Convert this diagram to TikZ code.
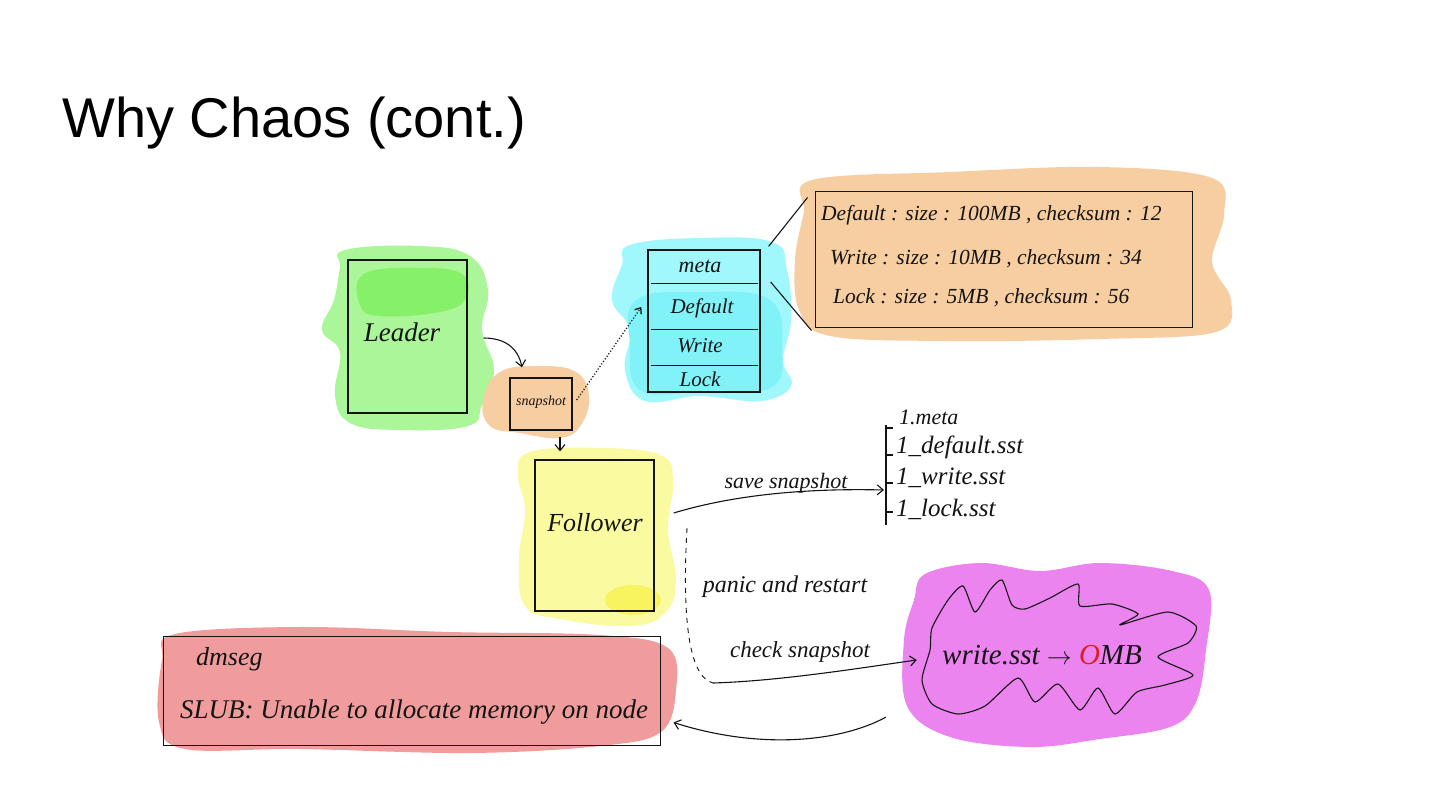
\documentclass[tikz,border=0pt]{standalone}
\usepackage{fontspec}
\setmainfont{Liberation Sans}
\newfontfamily\hand{Liberation Serif}
\usetikzlibrary{arrows.meta}
\definecolor{lgreen}{RGB}{170,246,152}
\definecolor{dgreen}{RGB}{135,240,105}
\definecolor{lcyan}{RGB}{160,248,252}
\definecolor{dcyan}{RGB}{128,242,248}
\definecolor{peach}{RGB}{246,206,162}
\definecolor{lyellow}{RGB}{250,250,160}
\definecolor{dyellow}{RGB}{248,244,96}
\definecolor{salmon}{RGB}{240,156,156}
\definecolor{orchid}{RGB}{236,132,240}
\definecolor{ink}{RGB}{20,20,20}
\definecolor{omb}{RGB}{220,30,30}
\tikzset{
  box/.style={draw=ink, line width=1.3pt, inner sep=0pt},
  hw/.style={font=\hand\itshape\fontsize{#1}{#1}\selectfont, text=ink, inner sep=0pt},
  pen/.style={draw=ink, line width=1.1pt},
  conn/.style={pen, -{Straight Barb[length=6pt,width=10pt]}},
  blob/.style={fill=#1, draw=none},
}
\begin{document}
\begin{tikzpicture}[x=1pt,y=-1pt]
\useasboundingbox (0,0) rectangle (1440,810);
\fill[white] (0,0) rectangle (1440,810);

% title
\node[anchor=base west, inner sep=0pt, font=\fontsize{56}{60}\selectfont] (title) at (62,138) {Why Chaos (cont.)};

% ---------- blobs ----------
\fill[blob=lgreen] plot[smooth cycle, tension=0.7] coordinates {(345,250) (420,246) (470,256) (488,290) (482,330) (494,370) (482,405) (468,426) (400,430) (350,423) (335,395) (340,352) (322,330) (334,300) (340,268)};
\fill[blob=dgreen] plot[smooth cycle, tension=0.7] coordinates {(364,274) (420,268) (462,274) (466,298) (440,312) (380,316) (360,305)};
\fill[blob=peach] plot[smooth cycle, tension=0.7] coordinates {(500,372) (540,366) (576,372) (589,396) (581,425) (560,438) (520,433) (490,426) (483,400)};
\fill[blob=lcyan] plot[smooth cycle, tension=0.7] coordinates {(630,245) (700,238) (772,242) (787,270) (791,320) (783,360) (791,386) (760,401) (700,396) (645,401) (625,370) (630,330) (612,300) (622,265)};
\fill[blob=dcyan] plot[smooth cycle, tension=0.7] coordinates {(636,300) (700,292) (770,300) (782,350) (770,388) (700,392) (640,390) (630,345)};
\fill[blob=peach] plot[smooth cycle, tension=0.6] coordinates {(812,180) (950,172) (1100,167) (1212,178) (1224,215) (1212,262) (1231,300) (1216,332) (1100,339) (950,341) (830,336) (799,310) (795,260) (804,212)};
\fill[blob=lyellow] plot[smooth cycle, tension=0.7] coordinates {(530,452) (600,448) (660,455) (673,480) (668,530) (676,580) (665,613) (630,626) (560,619) (525,606) (519,560) (525,510) (518,475)};
\fill[dyellow] (633,600) ellipse [x radius=28, y radius=15];
\fill[blob=salmon] plot[smooth cycle, tension=0.6] coordinates {(175,634) (300,627) (450,632) (600,635) (668,648) (676,690) (661,732) (600,746) (470,753) (300,749) (185,749) (159,722) (162,660)};
\fill[blob=orchid] plot[smooth cycle, tension=0.6] coordinates {(925,574) (980,563) (1040,571) (1100,563) (1172,571) (1209,590) (1206,650) (1196,702) (1170,727) (1100,739) (1030,747) (950,737) (907,706) (904,640) (914,600)};

% ---------- boxes ----------
\node[box, minimum width=119pt, minimum height=153pt] (leader) at (407.5,336.5) {};
\node[hw=27] (leaderT) at (402,332) {Leader};

\node[box, minimum width=62pt, minimum height=52pt] (snap) at (541,404) {};
\node[hw=14] (snapT) at (541,402) {snapshot};

\node[box, minimum width=112pt, minimum height=142pt] (meta) at (704,321) {};
\node[hw=22] (mMeta) at (700,266) {meta};
\node[hw=21] (mDef) at (702,308) {Default};
\node[hw=21] (mWrite) at (700,346) {Write};
\node[hw=21] (mLock) at (700,379) {Lock};
\draw[pen] ([xshift=4pt,yshift=-34pt]meta.north west) -- ([xshift=-3pt,yshift=-34pt]meta.north east);
\draw[pen] ([xshift=4pt,yshift=-80pt]meta.north west) -- ([xshift=-3pt,yshift=-80pt]meta.north east);
\draw[pen] ([xshift=4pt,yshift=-116pt]meta.north west) -- ([xshift=-3pt,yshift=-116pt]meta.north east);

\node[box, line width=1pt, minimum width=377pt, minimum height=135pt] (detail) at (1003.5,259.5) {};
\node[hw=21.5, anchor=west] (d1) at (821,215) {Default : size : 100MB , checksum : 12};
\node[hw=21.5, anchor=west] (d2) at (830,259) {Write : size : 10MB , checksum : 34};
\node[hw=21.5, anchor=west] (d3) at (833,298) {Lock : size : 5MB , checksum : 56};

\node[box, minimum width=119pt, minimum height=151pt] (follower) at (594.5,535.5) {};
\node[hw=26] (followerT) at (595,523) {Follower};

\node[box, line width=1pt, minimum width=497pt, minimum height=109pt] (dmseg) at (411.5,690.5) {};
\node[hw=26, anchor=west] (dm1) at (196,659) {dmseg};
\node[hw=27, anchor=west] (dm2) at (180,712) {SLUB: Unable to allocate memory on node};

% files list
\coordinate (brtop) at (886,425);
\coordinate (brbot) at (886,525);
\draw[pen] (brtop) -- (brbot);
\foreach \yy in {428,455,483,512} \draw[pen] (886,\yy) -- (893,\yy);
\node[hw=22, anchor=west] (f1) at (899,417) {1.meta};
\node[hw=25, anchor=west] (f2) at (896,447) {1\_default.sst};
\node[hw=25, anchor=west] (f3) at (896,478) {1\_write.sst};
\node[hw=25, anchor=west] (f4) at (896,509) {1\_lock.sst};

% cloud
\draw[pen] plot[smooth cycle, tension=0.4] coordinates {(932,628) (948,600) (963,586) (975,612) (990,590) (1002,580) (1012,605) (1025,609) (1050,598) (1078,584) (1080,606) (1112,604) (1138,614) (1120,625) (1168,612) (1196,626) (1188,643) (1158,657) (1193,675) (1165,685) (1137,692) (1115,714) (1098,688) (1080,710) (1058,684) (1035,702) (1018,678) (985,706) (958,714) (932,704) (922,680) (930,650)};
\node[minimum width=270pt, minimum height=140pt, inner sep=0pt] (cloud) at (1060,652) {};
\node[hw=29] (cloudT) at (1042,655) {write.sst $\rightarrow$ \textcolor{omb}{O}MB};

% ---------- connectors ----------
\draw[conn] ([xshift=16pt,yshift=-1.5pt]leader.east) .. controls (505,338) and (518,348) .. ([xshift=-19pt,yshift=10pt]snap.north);
\draw[conn] ([xshift=19pt,yshift=-6pt]snap.south) -- ([xshift=-34.5pt,yshift=8pt]follower.north);
\draw[pen, dotted, line width=1.3pt, -{Straight Barb[length=5pt,width=8pt]}] ([xshift=4pt,yshift=4pt]snap.east) -- ([xshift=-6pt,yshift=14pt]meta.west);
\draw[pen] ([xshift=8pt,yshift=3pt]meta.north east) -- ([xshift=-7pt,yshift=-6pt]detail.north west);
\draw[pen] ([xshift=10pt,yshift=39pt]meta.east) -- ([xshift=-3pt,yshift=-3pt]detail.south west);

\draw[conn] ([xshift=19pt,yshift=22.5pt]follower.east) .. controls (730,496) and (800,488) .. ([xshift=-2pt,yshift=-65pt]brtop);
\node[hw=22] (saveT) at (786,483) {save snapshot};

\coordinate (dtop) at (687,528);
\coordinate (dbot) at (713,683);
\draw[pen, dashed, line width=0.9pt, dash pattern=on 5pt off 5pt] (dtop) .. controls (683,600) and (685,676) .. (dbot);
\draw[conn] (dbot) .. controls (780,681) and (860,668) .. ([xshift=-8pt,yshift=-8pt]cloud.west);
\node[hw=24] (panicT) at (785,587) {panic and restart};
\node[hw=23] (checkT) at (800,652) {check snapshot};

\draw[conn] ([xshift=-39pt,yshift=5pt]cloud.south west) .. controls (840,742) and (760,750) .. ([xshift=13pt,yshift=-32pt]dmseg.east);
\end{tikzpicture}
\end{document}
